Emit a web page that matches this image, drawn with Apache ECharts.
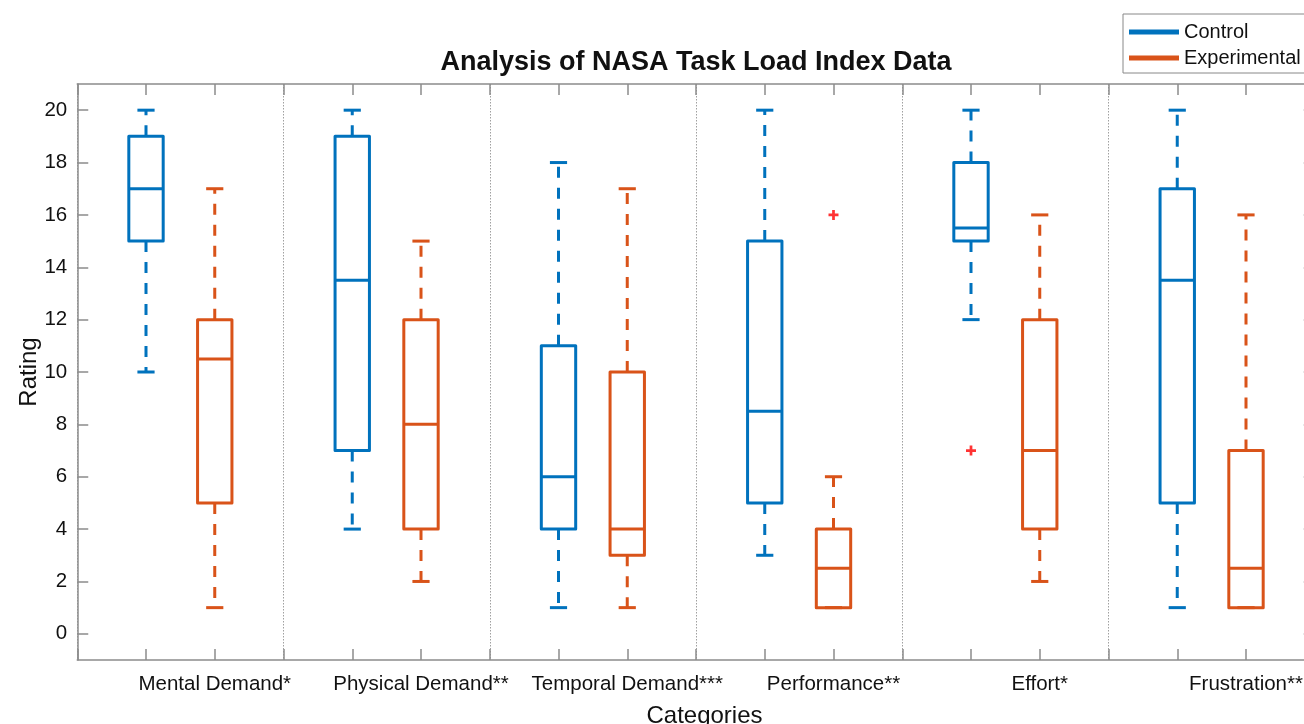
<!DOCTYPE html>
<html>
<head>
<meta charset="utf-8">
<script src="https://cdn.jsdelivr.net/npm/echarts@6/dist/echarts.min.js"></script>
<style>html,body{margin:0;padding:0;background:#fff;}#main{width:1304px;height:724px;}</style>
</head>
<body>
<div id="main"></div>
<script>
// ---- data ----
const categories = ['Mental Demand*', 'Physical Demand**', 'Temporal Demand***', 'Performance**', 'Effort*', 'Frustration**'];
// [lower whisker, Q1, median, Q3, upper whisker]
const controlStats = [
  [10, 15, 17, 19, 20],
  [4, 7, 13.5, 19, 20],
  [1, 4, 6, 11, 18],
  [3, 5, 8.5, 15, 20],
  [12, 15, 15.5, 18, 20],
  [1, 5, 13.5, 17, 20]
];
const experimentalStats = [
  [1, 5, 10.5, 12, 17],
  [2, 4, 8, 12, 15],
  [1, 3, 4, 10, 17],
  [1, 1, 2.5, 4, 6],
  [2, 4, 7, 12, 16],
  [1, 1, 2.5, 7, 16]
];
const controlOutliers = [[], [], [], [], [7], []];
const experimentalOutliers = [[], [], [], [16], [], []];
const yTicks = [0, 2, 4, 6, 8, 10, 12, 14, 16, 18, 20];

// ---- build ----
const BLUE = '#0072BD', ORANGE = '#D95319', AXIS = '#8c8c8c', TXT = '#111';
const posControl = i => 3 * i + 1;
const posExp = i => 3 * i + 2;
const labelMap = {};
categories.forEach((c, i) => { labelMap[posExp(i)] = c; });

const controlData = controlStats.map((s, i) => [posControl(i)].concat(s));
const expData = experimentalStats.map((s, i) => [posExp(i)].concat(s));
const outlierData = [];
controlOutliers.forEach((arr, i) => arr.forEach(v => outlierData.push([posControl(i), v])));
experimentalOutliers.forEach((arr, i) => arr.forEach(v => outlierData.push([posExp(i), v])));

function renderBox(params, api) {
  const x = api.value(0);
  const lo = api.value(1), q1 = api.value(2), md = api.value(3), q3 = api.value(4), hi = api.value(5);
  const color = api.visual('color');
  const halfW = api.size([0.5, 0])[0] / 2;
  const capHalf = api.size([0.25, 0])[0] / 2;
  const cx = api.coord([x, 0])[0];
  const yLo = api.coord([x, lo])[1], yQ1 = api.coord([x, q1])[1], yMd = api.coord([x, md])[1];
  const yQ3 = api.coord([x, q3])[1], yHi = api.coord([x, hi])[1];
  const lw = 3;
  const solid = { stroke: color, lineWidth: lw, fill: null, lineJoin: 'round', lineCap: 'butt' };
  const dashed = { stroke: color, lineWidth: lw, fill: null, lineDash: [11, 10] };
  return {
    type: 'group',
    children: [
      { type: 'line', shape: { x1: cx, y1: yQ3, x2: cx, y2: yHi }, style: dashed },
      { type: 'line', shape: { x1: cx, y1: yQ1, x2: cx, y2: yLo }, style: dashed },
      { type: 'line', shape: { x1: cx - capHalf, y1: yHi, x2: cx + capHalf, y2: yHi }, style: solid },
      { type: 'line', shape: { x1: cx - capHalf, y1: yLo, x2: cx + capHalf, y2: yLo }, style: solid },
      { type: 'rect', shape: { x: cx - halfW, y: yQ3, width: 2 * halfW, height: yQ1 - yQ3 }, style: solid },
      { type: 'line', shape: { x1: cx - halfW, y1: yMd, x2: cx + halfW, y2: yMd }, style: solid }
    ]
  };
}

const axisLineStyle = { color: AXIS, width: 1.5 };
const xBase = {
  type: 'value', min: 0, max: 18, interval: 1,
  axisLine: { show: true, onZero: false, lineStyle: axisLineStyle },
  axisTick: { show: true, inside: true, length: 11, lineStyle: axisLineStyle },
  splitLine: { show: false }
};
const yBase = {
  type: 'value', min: -1, max: 21,
  axisLine: { show: true, onZero: false, lineStyle: axisLineStyle },
  axisTick: { show: true, inside: true, length: 11, customValues: yTicks, lineStyle: axisLineStyle },
  splitLine: { show: false }
};

const chart = echarts.init(document.getElementById('main'), null, { renderer: 'canvas' });
chart.setOption({
  backgroundColor: '#fff',
  animation: false,
  title: {
    text: 'Analysis of NASA Task Load Index Data',
    left: 691, top: 44, textAlign: 'center',
    textStyle: { fontFamily: 'Liberation Sans', fontSize: 27, fontWeight: 'bold', color: TXT }
  },
  legend: {
    orient: 'vertical', left: 1123, top: 14,
    padding: [8, 30, 5, 6], itemGap: 6,
    itemWidth: 50, itemHeight: 5,
    borderColor: '#888', borderWidth: 1, backgroundColor: '#fff',
    textStyle: { fontFamily: 'Liberation Sans', fontSize: 20, color: TXT, lineHeight: 20 },
    data: [{ name: 'Control', icon: 'rect' }, { name: 'Experimental', icon: 'rect' }]
  },
  grid: { left: 77.25, top: 84, width: 1237.5, height: 576, containLabel: false, outerBoundsMode: 'none' },
  xAxis: [
    Object.assign({}, xBase, {
      position: 'bottom',
      name: 'Categories', nameLocation: 'middle', nameGap: 44, nameMoveOverlap: false,
      nameTextStyle: { fontFamily: 'Liberation Sans', fontSize: 24, color: TXT, padding: [0, 0, 0, 17] },
      axisLabel: {
        show: true, margin: 14, fontFamily: 'Liberation Sans', fontSize: 20.5, color: TXT,
        formatter: v => labelMap[v] || '', showMinLabel: true, showMaxLabel: true
      }
    }),
    Object.assign({}, xBase, { position: 'top', axisLabel: { show: false } }),
    {
      type: 'value', min: 0, max: 18, interval: 3, position: 'bottom',
      axisLine: { show: false }, axisTick: { show: false }, axisLabel: { show: false },
      splitLine: { show: true, lineStyle: { color: '#a0a0a0', type: [1.5, 1.5], width: 1 } }
    }
  ],
  yAxis: [
    Object.assign({}, yBase, {
      position: 'left',
      name: 'Rating', nameLocation: 'middle', nameGap: 36, nameMoveOverlap: false,
      nameTextStyle: { fontFamily: 'Liberation Sans', fontSize: 24, color: TXT },
      axisLabel: { show: true, margin: 10, customValues: yTicks, fontFamily: 'Liberation Sans', fontSize: 20.5, color: TXT }
    }),
    Object.assign({}, yBase, { position: 'right', axisLabel: { show: false } })
  ],
  series: [
    {
      name: 'Control', type: 'custom', xAxisIndex: 0, yAxisIndex: 0,
      itemStyle: { color: BLUE }, renderItem: renderBox,
      encode: { x: 0, y: [1, 2, 3, 4, 5] }, data: controlData, z: 3
    },
    {
      name: 'Experimental', type: 'custom', xAxisIndex: 0, yAxisIndex: 0,
      itemStyle: { color: ORANGE }, renderItem: renderBox,
      encode: { x: 0, y: [1, 2, 3, 4, 5] }, data: expData, z: 3
    },
    {
      name: 'Outliers', type: 'scatter', xAxisIndex: 0, yAxisIndex: 0,
      symbol: 'path://M4,0H7V4H11V7H7V11H4V7H0V4H4Z', symbolSize: 10,
      itemStyle: { color: '#ff0000' }, data: outlierData, z: 4
    }
  ]
});
</script>
</body>
</html>
